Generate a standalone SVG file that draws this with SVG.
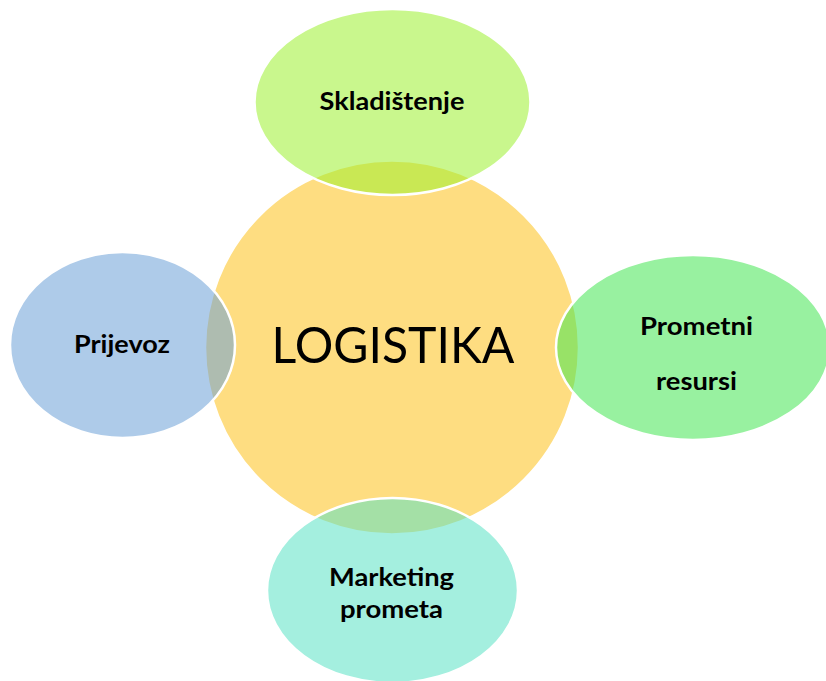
<svg xmlns="http://www.w3.org/2000/svg" width="826" height="681" viewBox="0 0 826 681">
<style>
.shape{stroke:#FFFFFF;stroke-width:2.5}
.lbl{font-family:Lato,"Open Sans","DejaVu Sans",sans-serif;font-weight:bold;font-size:25px;fill:#000000;text-anchor:middle}
.main{font-family:Lato,"Open Sans","DejaVu Sans",sans-serif;font-size:50px;fill:#000000;text-anchor:middle}
</style>
<rect width="826" height="681" fill="#FFFFFF"/>
<g id="logistika">
<circle class="shape" cx="392" cy="347.5" r="187" fill="#FEDD81"/>
<text class="main" x="393" y="363" textLength="243" lengthAdjust="spacingAndGlyphs">LOGISTIKA</text>
</g>
<g id="skladistenje">
<ellipse class="shape" cx="392.5" cy="102" rx="138" ry="93" fill="#9DF030" fill-opacity="0.55"/>
<text class="lbl" x="392" y="110" textLength="145" lengthAdjust="spacingAndGlyphs">Skladištenje</text>
</g>
<g id="prijevoz">
<ellipse class="shape" cx="122.5" cy="345" rx="112.5" ry="93" fill="#6BA0D7" fill-opacity="0.55"/>
<text class="lbl" x="122" y="353" textLength="96" lengthAdjust="spacingAndGlyphs">Prijevoz</text>
</g>
<g id="prometni-resursi">
<ellipse class="shape" cx="693" cy="347.5" rx="137" ry="92.5" fill="#44E652" fill-opacity="0.55"/>
<text class="lbl" x="696.5" y="335" textLength="113" lengthAdjust="spacingAndGlyphs">Prometni</text>
<text class="lbl" x="696.5" y="390" textLength="81" lengthAdjust="spacingAndGlyphs">resursi</text>
</g>
<g id="marketing-prometa">
<ellipse class="shape" cx="392.5" cy="590.5" rx="125.5" ry="92.5" fill="#5AE2C5" fill-opacity="0.55"/>
<text class="lbl" x="391.5" y="586" textLength="125" lengthAdjust="spacingAndGlyphs">Marketing</text>
<text class="lbl" x="391.5" y="618" textLength="103" lengthAdjust="spacingAndGlyphs">prometa</text>
</g>
<g id="connectors"></g>
</svg>
